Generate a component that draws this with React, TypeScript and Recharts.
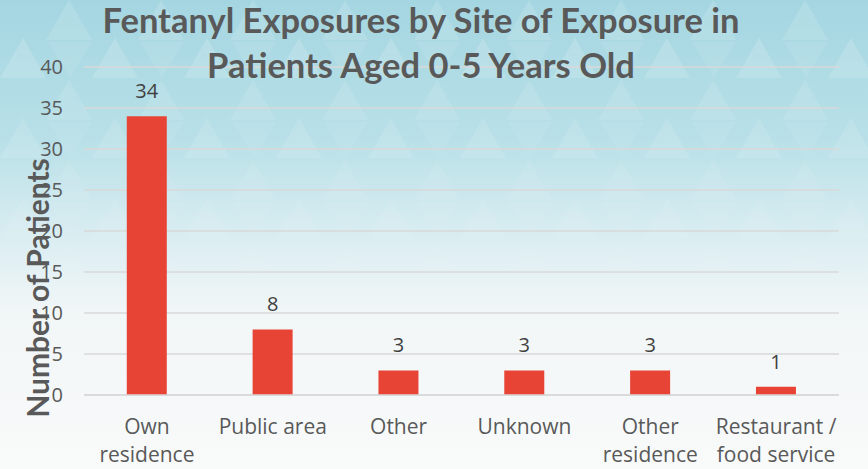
import { BarChart, Bar, XAxis, YAxis, CartesianGrid, LabelList } from "recharts";

const categories = ["Own residence", "Public area", "Other", "Unknown", "Other residence", "Restaurant / food service"];
const tickLines: string[][] = [
  ["Own", "residence"],
  ["Public area"],
  ["Other"],
  ["Unknown"],
  ["Other", "residence"],
  ["Restaurant /", "food service"],
];
const patients = [34, 8, 3, 3, 3, 1];
const yTicks = [0, 5, 10, 15, 20, 25, 30, 35, 40];

const data = categories.map((name, i) => ({ name, patients: patients[i] }));

const FONT = "Lato, 'Open Sans', sans-serif";
const TICK_FONT = "'Open Sans', Lato, sans-serif";

function CategoryTick(props: any) {
  const { x, y, payload } = props;
  const lines = tickLines[payload.index] ?? [payload.value];
  return (
    <g transform={`translate(${x},${y})`}>
      {lines.map((l, i) => (
        <text key={i} x={0} y={31 + i * 28} textAnchor="middle" fill="#595959" fontSize={21} fontFamily={TICK_FONT}>
          {l}
        </text>
      ))}
    </g>
  );
}

function YLabel(props: any) {
  const { viewBox } = props;
  const cx = viewBox.x + 49;
  const cy = viewBox.y + viewBox.height / 2 + 57;
  return (
    <text
      x={cx}
      y={cy}
      transform={`rotate(-90, ${cx}, ${cy})`}
      textAnchor="middle"
      fill="#595959"
      fontSize={30}
      fontWeight={700}
      fontFamily={FONT}
    >
      Number of Patients
    </text>
  );
}

// faint triangle pattern of the slide background
function Backdrop() {
  return (
    <svg width={868} height={469} style={{ position: "absolute", left: 0, top: 0 }}>
      <defs>
        <linearGradient id="bg" x1="0" y1="0" x2="0" y2="1">
          <stop offset="0" stopColor="#a4d6e1" />
          <stop offset="0.3" stopColor="#b9e0e8" />
          <stop offset="0.52" stopColor="#dceef2" />
          <stop offset="0.66" stopColor="#f1f6f7" />
          <stop offset="1" stopColor="#f9fafa" />
        </linearGradient>
        <linearGradient id="fade" x1="0" y1="0" x2="0" y2="1">
          <stop offset="0" stopColor="#fff" stopOpacity="1" />
          <stop offset="0.55" stopColor="#fff" stopOpacity="0.3" />
          <stop offset="0.75" stopColor="#fff" stopOpacity="0" />
        </linearGradient>
        <mask id="m">
          <rect width={868} height={469} fill="url(#fade)" />
        </mask>
        <pattern id="tri" width={92} height={80} patternUnits="userSpaceOnUse">
          <polygon points="0,78 23,38 46,78" fill="#ffffff" opacity="0.18" />
          <polygon points="46,40 69,0 92,40" fill="#ffffff" opacity="0.14" />
          <polygon points="48,42 92,42 70,78" fill="#ffffff" opacity="0.1" />
        </pattern>
      </defs>
      <rect width={868} height={469} fill="url(#bg)" />
      <rect width={868} height={469} fill="url(#tri)" mask="url(#m)" />
    </svg>
  );
}

export default function App() {
  return (
    <div style={{ position: "relative", width: 868, height: 469, overflow: "hidden" }}>
      <style>{`body{margin:0}`}</style>
      <Backdrop />
      <div style={{ position: "absolute", left: 0, top: 0 }}>
        <BarChart
          width={868}
          height={469}
          data={data}
          margin={{ top: 67, right: 29, bottom: 0, left: 0 }}
          barCategoryGap="34%"
        >
          <CartesianGrid vertical={false} stroke="#d9d9d9" strokeWidth={1.5} />
          <XAxis
            dataKey="name"
            height={74}
            axisLine={{ stroke: "#d9d9d9", strokeWidth: 1.5 }}
            tickLine={false}
            interval={0}
            tick={<CategoryTick />}
          />
          <YAxis
            width={84}
            domain={[0, 40]}
            ticks={yTicks}
            axisLine={false}
            tickLine={false}
            tickSize={0}
            tickMargin={21}
            tick={{ fill: "#595959", fontSize: 20, fontFamily: TICK_FONT }}
            label={<YLabel />}
          />
          <Bar dataKey="patients" fill="#e84436" isAnimationActive={false}>
            <LabelList dataKey="patients" position="top" offset={18} fill="#404040" fontSize={20} fontFamily={TICK_FONT} />
          </Bar>
        </BarChart>
      </div>
      <div
        style={{
          position: "absolute",
          left: 0,
          top: -3,
          width: 842,
          textAlign: "center",
          fontFamily: FONT,
          fontWeight: 700,
          fontSize: 34.5,
          lineHeight: "45px",
          color: "#595959",
        }}
      >
        Fentanyl Exposures by Site of Exposure in
        <br />
        Patients Aged 0-5 Years Old
      </div>
    </div>
  );
}
